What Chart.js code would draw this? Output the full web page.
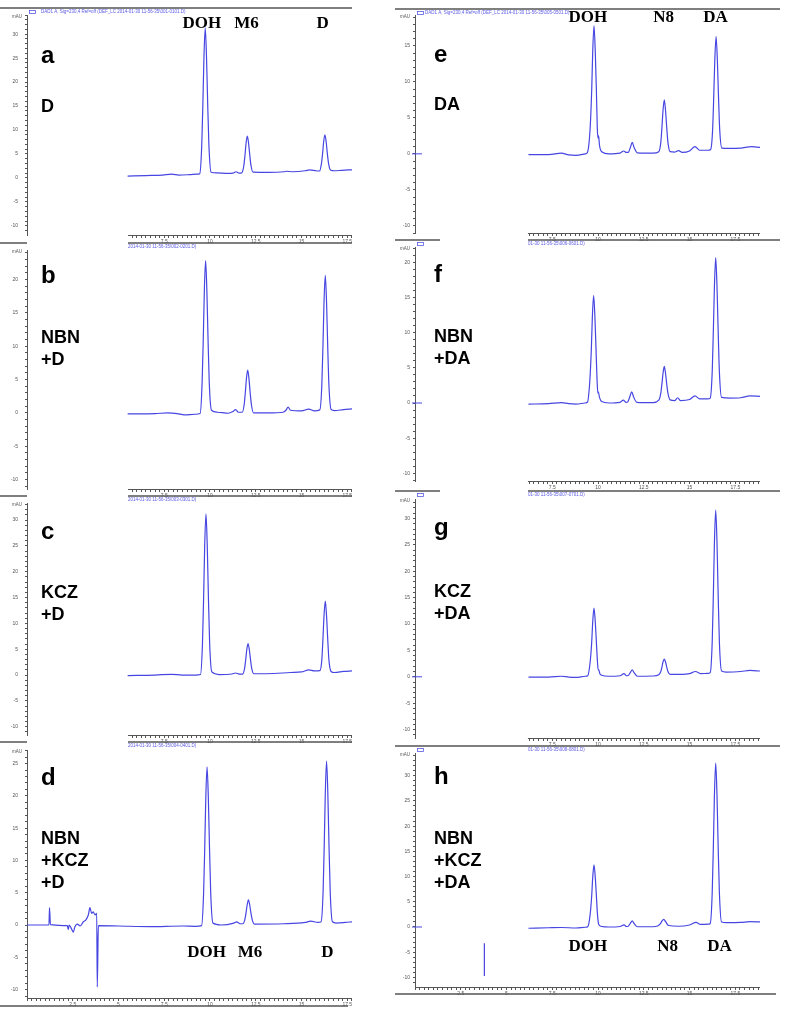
<!DOCTYPE html>
<html>
<head>
<meta charset="utf-8">
<script src="https://cdn.jsdelivr.net/npm/chart.js@4.4.1/dist/chart.umd.min.js"></script>
<style>
html, body { margin: 0; background: #fff; }
#page { position: relative; width: 785px; height: 1016px; overflow: hidden; background: #fff; }
#page canvas { position: absolute; }
</style>
</head>
<body>
<div id="page"></div>
<script>
// ---- data: [time (min), absorbance (mAU)] ----
const panelLetters = ['a', 'b', 'c', 'd', 'e', 'f', 'g', 'h'];
const panelConditions = [
  ['D'], ['NBN', '+D'], ['KCZ', '+D'], ['NBN', '+KCZ', '+D'],
  ['DA'], ['NBN', '+DA'], ['KCZ', '+DA'], ['NBN', '+KCZ', '+DA']
];
const runTags = ['001-0101', '002-0201', '003-0301', '004-0401', '005-0501', '006-0601', '007-0701', '008-0801'];

const xTickValues = [2.5, 5, 7.5, 10, 12.5, 15, 17.5];
const yTickValues = [-10, -5, 0, 5, 10, 15, 20, 25, 30];

const leftPeakNames = ['DOH', 'M6', 'D'];
const rightPeakNames = ['DOH', 'N8', 'DA'];
const peakLabelTimesA = [9.56, 12.0, 16.15];
const peakLabelTimesD = [9.81, 12.19, 16.42];
const peakLabelTimesE = [9.45, 13.58, 16.42];
const peakLabelTimesH = [9.45, 13.8, 16.64];

const traceA = [[5.5,0.4],[6.5,0.5],[7.4,0.6],[7.9,0.8],[8.3,0.6],[8.9,0.7],[9.3,0.8],
  [9.44,0.9],[9.55,6.9],[9.615,16.1],[9.67,25.2],[9.74,31.3],[9.81,25.2],[9.87,16.1],[9.94,6.9],[10.06,1.2],
  [10.35,1.05],[11.0,0.95],[11.25,1.0],[11.42,1.3],[11.6,1.0],
  [11.74,1.1],[11.85,2.6],[11.915,4.9],[11.97,7.2],[12.04,8.75],[12.11,7.2],[12.17,4.9],[12.24,2.6],[12.36,1.2],
  [13.2,1.15],[14.05,1.3],[14.2,1.4],[14.5,1.3],[15.2,1.5],[15.45,1.7],[15.8,1.5],[15.98,1.45],
  [16.09,3.0],[16.155,5.2],[16.21,7.5],[16.28,9.0],[16.35,7.5],[16.41,5.2],[16.48,3.0],[16.6,1.6],
  [16.8,1.5],[17.2,1.6],[17.76,1.7]];
const traceB = [[5.5,-0.15],[7.0,-0.1],[7.7,0],[8.2,-0.1],[8.6,-0.3],[9.2,-0.2],
  [9.46,-0.1],[9.57,4.5],[9.635,11.4],[9.69,18.2],[9.76,22.8],[9.83,18.2],[9.89,11.4],[9.96,4.5],[10.08,0.4],
  [10.4,0.1],[11.0,-0.05],[11.25,0.2],[11.4,0.5],[11.55,0.1],
  [11.76,0.1],[11.87,1.3],[11.935,3.2],[11.99,5.1],[12.06,6.4],[12.13,5.1],[12.19,3.2],[12.26,1.3],[12.38,0.0],
  [13.2,0],[14.0,0.1],[14.15,0.4],[14.27,0.85],[14.4,0.4],[15.0,0.3],[15.4,0.55],[15.7,0.3],[16.0,0.45],
  [16.11,4.1],[16.175,10.3],[16.23,16.5],[16.3,20.6],[16.37,16.5],[16.43,10.3],[16.5,4.1],[16.62,0.5],
  [16.8,0.35],[17.3,0.5],[17.76,0.6]];
const traceC = [[5.5,-0.1],[7.0,0],[7.9,0.15],[8.5,0],[9.2,0],
  [9.48,0.1],[9.59,6.2],[9.655,15.6],[9.71,25],[9.78,31.2],[9.85,25],[9.91,15.6],[9.98,6.2],[10.1,0.6],
  [10.5,0.1],[11.2,0.2],[11.4,0.4],[11.6,0.2],
  [11.78,0.2],[11.89,1.3],[11.955,3.1],[12.01,4.9],[12.08,6.1],[12.15,4.9],[12.21,3.1],[12.28,1.3],[12.4,0.25],
  [13.5,0.3],[14.4,0.5],[15.0,0.6],[15.4,1.0],[15.7,0.8],[16.0,0.85],
  [16.11,2.9],[16.175,7.2],[16.23,11.4],[16.3,14.3],[16.37,11.4],[16.43,7.2],[16.5,2.9],[16.62,0.7],
  [16.8,0.5],[17.3,0.7],[17.76,0.8]];
const traceD = [[0,0],[1.2,0],[1.23,2.7],[1.28,0.05],[2.2,-0.1],[2.26,-0.7],[2.3,0],[2.4,-0.4],[2.53,-1.1],[2.62,-0.25],
  [2.75,0.15],[2.9,-0.15],[3.08,0.5],[3.22,0.8],[3.35,1.55],[3.44,2.7],[3.53,1.8],[3.62,2.05],[3.72,1.55],[3.81,1.8],
  [3.84,-9.6],[3.9,-0.1],[5.0,-0.15],[6.7,-0.25],[8.5,-0.15],[9.2,-0.2],
  [9.54,-0.1],[9.65,4.9],[9.715,12.3],[9.77,19.6],[9.84,24.5],[9.91,19.6],[9.97,12.3],[10.04,4.9],[10.16,0.3],
  [10.6,0],[11.3,0.3],[11.45,0.5],[11.65,0.2],
  [11.8,0.2],[11.91,0.9],[11.975,2.0],[12.03,3.1],[12.1,3.9],[12.17,3.1],[12.23,2.0],[12.3,0.9],[12.42,0.15],
  [14.0,0.2],[15.2,0.4],[15.5,0.6],[15.9,0.4],[16.07,0.5],
  [16.18,5.1],[16.245,12.7],[16.3,20.3],[16.37,25.4],[16.44,20.3],[16.5,12.7],[16.57,5.1],[16.69,0.5],
  [16.9,0.3],[17.4,0.4],[17.76,0.5]];
const traceE = [[6.2,-0.1],[7.3,-0.1],[8.0,0.1],[8.4,-0.15],[8.8,-0.2],[9.3,0],
  [9.42,0.2],[9.57,3.6],[9.655,8.9],[9.71,14.2],[9.78,17.8],[9.85,14.2],[9.91,8.9],[9.96,3.6],[10.0,2.2],[10.03,2.5],[10.08,1.2],[10.2,0.3],
  [10.6,0],[11.2,0.1],[11.4,0.4],[11.55,0.2],
  [11.65,0.2],[11.78,1.0],[11.87,1.6],[11.97,0.9],[12.15,0.15],
  [13.0,0.1],[13.32,0.3],[13.43,1.6],[13.495,3.8],[13.55,6.0],[13.62,7.5],[13.69,6.0],[13.75,3.8],[13.82,1.6],[13.94,0.3],
  [14.2,0.25],[14.4,0.45],[14.6,0.2],[15.0,0.4],[15.3,1.0],[15.55,0.5],[16.0,0.5],[16.15,0.6],
  [16.26,3.3],[16.325,8.2],[16.38,13],[16.45,16.3],[16.52,13],[16.58,8.2],[16.65,3.3],[16.77,0.8],
  [17.2,0.75],[17.8,0.8],[18.4,1.0],[18.85,0.9]];
const traceF = [[6.2,-0.15],[7.3,-0.1],[8.0,0.05],[8.4,-0.1],[8.8,-0.15],[9.3,0],
  [9.42,0.1],[9.55,3.1],[9.635,7.7],[9.69,12.2],[9.76,15.3],[9.83,12.2],[9.89,7.7],[9.95,3.1],[9.99,1.4],[10.02,1.6],[10.08,0.8],[10.2,0.2],
  [10.6,0],[11.2,0.1],[11.38,0.4],[11.52,0.1],
  [11.62,0.15],[11.75,1.0],[11.84,1.6],[11.94,0.9],[12.12,0.1],
  [13.0,0.05],[13.32,0.4],[13.43,1.4],[13.495,2.8],[13.55,4.2],[13.62,5.2],[13.69,4.2],[13.75,2.8],[13.82,1.4],[13.94,0.45],
  [14.2,0.35],[14.35,0.75],[14.5,0.35],[15.0,0.5],[15.3,1.0],[15.55,0.6],[16.0,0.6],[16.13,0.7],
  [16.24,4.5],[16.305,10.7],[16.36,16.6],[16.43,20.7],[16.5,16.6],[16.56,10.7],[16.63,4.5],[16.75,0.8],
  [17.2,0.7],[17.8,0.75],[18.3,1.0],[18.85,0.95]];
const traceG = [[6.2,-0.05],[7.3,-0.05],[8.0,0.1],[8.4,-0.05],[8.8,-0.1],[9.3,0.1],
  [9.44,0.2],[9.57,2.8],[9.655,6.6],[9.71,10.4],[9.78,13],[9.85,10.4],[9.91,6.6],[9.97,2.8],[10.01,1.3],[10.04,1.3],[10.1,0.6],[10.2,0.3],
  [10.6,0.1],[11.2,0.2],[11.42,0.6],[11.55,0.2],
  [11.65,0.25],[11.78,0.9],[11.87,1.3],[11.97,0.8],[12.15,0.1],
  [13.0,0.15],[13.32,0.4],[13.43,1.0],[13.495,1.9],[13.55,2.8],[13.62,3.35],[13.69,2.8],[13.75,1.9],[13.82,1.0],[13.94,0.45],
  [14.6,0.45],[15.0,0.6],[15.33,1.0],[15.6,0.6],[16.0,0.65],[16.13,0.8],
  [16.24,6.7],[16.305,16.2],[16.36,25.4],[16.43,31.6],[16.5,25.4],[16.56,16.2],[16.63,6.7],[16.75,1.1],
  [17.0,0.9],[17.8,1.0],[18.3,1.2],[18.85,1.1]];
const traceH = [[3.79,-3.2],[3.79,-9.7],[5.0,null],
  [6.2,-0.25],[7.3,-0.15],[8.0,-0.1],[8.8,-0.2],[9.3,-0.05],
  [9.44,0.05],[9.57,2.5],[9.655,6.2],[9.71,9.8],[9.78,12.3],[9.85,9.8],[9.91,6.2],[9.97,2.5],[10.04,0.5],[10.2,0.1],
  [10.6,0],[11.2,0.1],[11.42,0.4],[11.55,0.1],
  [11.65,0.15],[11.78,0.8],[11.87,1.2],[11.97,0.7],[12.15,0.05],
  [13.0,0.05],[13.25,0.2],[13.4,0.6],[13.5,1.2],[13.59,1.5],[13.7,1.0],[13.85,0.3],
  [14.4,0.15],[15.0,0.4],[15.36,0.9],[15.6,0.5],[16.0,0.55],[16.13,0.7],
  [16.24,6.9],[16.305,16.6],[16.36,26.1],[16.43,32.5],[16.5,26.1],[16.56,16.6],[16.63,6.9],[16.75,1.0],
  [17.0,0.85],[17.8,0.9],[18.3,1.05],[18.85,1.0]];

// ---- layout / style ----
const traceColor = '#4646e2';
const headerBlue = '#5a5ae6';
const axisColor = '#555';
const tickFont = { family: "'Liberation Sans', Arial, sans-serif", size: 5 };
const xAxisH = 9;

const leftCol = { left: 0, width: 360, areaLeft: 27, areaRight: 352, xMax: 17.76, textX: 41, boxX: 29, tickPad: 7, zeroMark: false };
const rightCol = { left: 395, width: 390, areaLeft: 415, areaRight: 760, xMax: 18.85, textX: 434, boxX: 417, tickPad: 3, zeroMark: true };

const panels = [
  { col: leftCol, trace: traceA, header: 8, areaTop: 15, areaBottom: 235, yMin: -11.9, yMax: 34.0, start: 5.52,
    segs: [[0, 352]], box: true, fullText: true, textX: 41, letterY: 63, condY: 112, peaks: leftPeakNames, peakTimes: peakLabelTimesA, peakY: 31.2 },
  { col: leftCol, trace: traceB, header: 243, areaTop: 250, areaBottom: 489, yMin: -11.4, yMax: 24.4, start: 5.52,
    segs: [[0, 27], [128, 352]], box: false, textX: 128, letterY: 283, condY: 343 },
  { col: leftCol, trace: traceC, header: 496, areaTop: 503, areaBottom: 735, yMin: -11.6, yMax: 33.3, start: 5.52,
    segs: [[0, 27], [128, 352]], box: false, textX: 128, letterY: 539, condY: 598 },
  { col: leftCol, trace: traceD, header: 742, areaTop: 750, areaBottom: 998, yMin: -11.3, yMax: 27.1, start: 0, footer: 1006,
    segs: [[0, 27], [128, 352]], box: false, textX: 128, letterY: 785, condY: 844, peaks: leftPeakNames, peakTimes: peakLabelTimesD, peakY: -4.95 },
  { col: rightCol, trace: traceE, header: 9, areaTop: 15, areaBottom: 233, yMin: -11.0, yMax: 19.3, start: 6.17,
    segs: [[395, 780]], box: true, fullText: true, textX: 425, letterY: 62, condY: 110, peaks: rightPeakNames, peakTimes: peakLabelTimesE, peakY: 18.3 },
  { col: rightCol, trace: traceF, header: 240, areaTop: 247, areaBottom: 481, yMin: -11.1, yMax: 22.2, start: 6.17,
    segs: [[395, 440], [528, 780]], box: true, textX: 528, letterY: 282, condY: 342 },
  { col: rightCol, trace: traceG, header: 491, areaTop: 499, areaBottom: 738, yMin: -11.6, yMax: 33.7, start: 6.17,
    segs: [[395, 440], [528, 780]], box: true, textX: 528, letterY: 535, condY: 597 },
  { col: rightCol, trace: traceH, header: 746, areaTop: 753, areaBottom: 987, yMin: -11.9, yMax: 34.5, start: 0, footer: 994,
    segs: [[395, 780]], box: true, textX: 528, letterY: 784, condY: 844, peaks: rightPeakNames, peakTimes: peakLabelTimesH, peakY: -4.76 }
];

function headerText(i, full) {
  const tail = '2014-01-30 11-56-35\\' + runTags[i] + '.D)';
  if (full) return 'DAD1 A, Sig=230,4 Ref=off (DEF_LC ' + tail;
  return i >= 4 ? tail.slice(5) : tail;
}

function decorPlugin(p, i, top) {
  const col = p.col;
  return {
    id: 'panelDecor' + i,
    afterDraw(chart) {
      const ctx = chart.ctx, area = chart.chartArea;
      const xs = chart.scales.x, ys = chart.scales.y;
      const cx = v => v - col.left, cy = v => v - top;
      ctx.save();

      // instrument header line(s)
      ctx.strokeStyle = axisColor;
      ctx.lineWidth = 1.5;
      p.segs.forEach(([x0, x1]) => {
        ctx.beginPath();
        ctx.moveTo(cx(x0), cy(p.header));
        ctx.lineTo(cx(x1), cy(p.header));
        ctx.stroke();
      });
      if (p.footer) {
        ctx.beginPath();
        ctx.moveTo(0, cy(p.footer));
        ctx.lineTo(p.segs[p.segs.length - 1][1] - col.left - 4, cy(p.footer));
        ctx.stroke();
      }
      if (p.box) {
        ctx.strokeStyle = headerBlue;
        ctx.lineWidth = 0.8;
        ctx.strokeRect(cx(col.boxX) + 0.5, cy(p.header) + 2.5, 6, 3);
      }
      ctx.fillStyle = headerBlue;
      ctx.font = "4.5px 'Liberation Sans', sans-serif";
      ctx.textAlign = 'left';
      ctx.textBaseline = 'middle';
      ctx.fillText(headerText(i, p.fullText), cx(p.textX), cy(p.header) + 4);

      // axis unit
      ctx.fillStyle = axisColor;
      ctx.textAlign = 'center';
      ctx.fillText('mAU', area.left - 10, area.top + 2);

      // x axis line (only where the trace is shown)
      ctx.strokeStyle = axisColor;
      ctx.lineWidth = 1;
      ctx.beginPath();
      ctx.moveTo(xs.getPixelForValue(p.start), Math.round(area.bottom) + 0.5);
      ctx.lineTo(area.right, Math.round(area.bottom) + 0.5);
      ctx.stroke();

      // baseline marker on the y axis
      if (col.zeroMark) {
        ctx.strokeStyle = traceColor;
        ctx.beginPath();
        ctx.moveTo(area.left - 3, ys.getPixelForValue(0));
        ctx.lineTo(area.left + 7, ys.getPixelForValue(0));
        ctx.stroke();
      }

      // panel letter and condition
      ctx.fillStyle = '#000';
      ctx.textAlign = 'left';
      ctx.textBaseline = 'alphabetic';
      ctx.font = "bold 24px 'Liberation Sans', Arial, sans-serif";
      ctx.fillText(panelLetters[i], cx(col.textX), cy(p.letterY));
      ctx.font = "bold 18px 'Liberation Sans', Arial, sans-serif";
      panelConditions[i].forEach((s, k) => ctx.fillText(s, cx(col.textX), cy(p.condY) + k * 22));

      // peak names
      if (p.peaks) {
        ctx.font = "bold 17px 'Liberation Serif', 'Times New Roman', serif";
        ctx.textAlign = 'center';
        p.peaks.forEach((name, k) => ctx.fillText(name, xs.getPixelForValue(p.peakTimes[k]), ys.getPixelForValue(p.peakY)));
      }
      ctx.restore();
    }
  };
}

const page = document.getElementById('page');

panels.forEach((p, i) => {
  const col = p.col;
  const top = p.header - 4;
  const bottom = p.footer ? p.footer + 3 : p.areaBottom + xAxisH + 2;
  const canvas = document.createElement('canvas');
  canvas.width = col.width;
  canvas.height = bottom - top;
  canvas.style.left = col.left + 'px';
  canvas.style.top = top + 'px';
  page.appendChild(canvas);

  new Chart(canvas, {
    type: 'line',
    data: {
      datasets: [{
        data: p.trace,
        borderColor: traceColor,
        borderWidth: 1.2,
        pointRadius: 0,
        cubicInterpolationMode: 'monotone',
        spanGaps: false,
        fill: false
      }]
    },
    options: {
      responsive: false,
      animation: false,
      events: [],
      layout: {
        padding: {
          top: p.areaTop - top,
          left: 0,
          right: col.left + col.width - col.areaRight,
          bottom: bottom - p.areaBottom - xAxisH
        }
      },
      plugins: { legend: { display: false }, tooltip: { enabled: false } },
      scales: {
        x: {
          type: 'linear',
          min: 0,
          max: col.xMax,
          border: { display: false },
          grid: {
            drawOnChartArea: false,
            tickLength: 3,
            tickColor: c => (c.tick && c.tick.value < p.start - 0.01) ? 'rgba(0,0,0,0)' : axisColor
          },
          ticks: {
            font: tickFont,
            color: axisColor,
            padding: 1,
            maxRotation: 0,
            autoSkip: false,
            callback: v => (xTickValues.includes(v) && v >= p.start) ? String(v) : ''
          },
          afterBuildTicks: s => {
            const t = [];
            for (let k = 0; k * 0.25 <= col.xMax; k++) t.push({ value: k * 0.25 });
            s.ticks = t;
          },
          afterFit: s => { s.height = xAxisH; s.paddingLeft = 0; s.paddingRight = 0; }
        },
        y: {
          type: 'linear',
          min: p.yMin,
          max: p.yMax,
          border: { display: true, color: axisColor, width: 1 },
          grid: { drawOnChartArea: false, tickLength: 2, color: axisColor },
          ticks: {
            font: tickFont,
            color: axisColor,
            padding: col.tickPad,
            autoSkip: false,
            callback: v => yTickValues.includes(v) ? String(v) : ''
          },
          afterBuildTicks: s => {
            const t = [];
            for (let v = Math.ceil(p.yMin); v <= p.yMax; v++) t.push({ value: v });
            s.ticks = t;
          },
          afterFit: s => { s.width = col.areaLeft - col.left; s.paddingTop = 0; s.paddingBottom = 0; }
        }
      }
    },
    plugins: [decorPlugin(p, i, top)]
  });
});
</script>
</body>
</html>
